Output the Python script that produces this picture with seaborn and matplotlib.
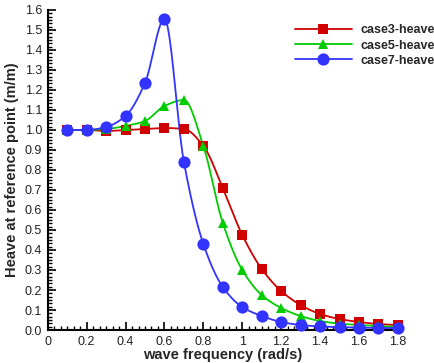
import numpy as np
import pandas as pd
import matplotlib
matplotlib.use("Agg")
import matplotlib.pyplot as plt
from matplotlib.lines import Line2D
from matplotlib.ticker import MultipleLocator, AutoMinorLocator, FormatStrFormatter
import seaborn as sns

# ---- data ----
freq = [0.1, 0.2, 0.3, 0.4, 0.5, 0.6, 0.7, 0.8, 0.9, 1.0, 1.1, 1.2, 1.3, 1.4, 1.5, 1.6, 1.7, 1.8]
case3 = [1.0, 1.0, 0.995, 1.0, 1.005, 1.01, 1.005, 0.92, 0.71, 0.475, 0.305, 0.195, 0.125, 0.08, 0.055, 0.04, 0.03, 0.025]
case5 = [1.0, 1.0, 1.005, 1.02, 1.045, 1.12, 1.15, 0.92, 0.535, 0.30, 0.175, 0.11, 0.07, 0.045, 0.032, 0.025, 0.02, 0.015]
case7 = [1.0, 1.0, 1.015, 1.07, 1.235, 1.555, 0.84, 0.43, 0.215, 0.115, 0.07, 0.04, 0.025, 0.018, 0.014, 0.012, 0.01, 0.01]
labels = ["case3-heave", "case5-heave", "case7-heave"]
colors = ["#D00000", "#00CC00", "#3333FF"]
markers = ["s", "^", "o"]
msizes = [6.8, 7.0, 8.8]
xlabel = "wave frequency (rad/s)"
ylabel = "Heave at reference point (m/m)"


def pchip(x, y, xs):
    x = np.asarray(x, float); y = np.asarray(y, float)
    n = len(x)
    h = np.diff(x); delta = np.diff(y) / h
    d = np.zeros(n)
    for k in range(1, n - 1):
        if delta[k - 1] * delta[k] <= 0:
            d[k] = 0.0
        else:
            w1 = 2 * h[k] + h[k - 1]
            w2 = h[k] + 2 * h[k - 1]
            d[k] = (w1 + w2) / (w1 / delta[k - 1] + w2 / delta[k])
    def endd(h0, h1, d0, d1):
        v = ((2 * h0 + h1) * d0 - h0 * d1) / (h0 + h1)
        if np.sign(v) != np.sign(d0):
            v = 0.0
        elif np.sign(d0) != np.sign(d1) and abs(v) > abs(3 * d0):
            v = 3 * d0
        return v
    d[0] = endd(h[0], h[1], delta[0], delta[1])
    d[-1] = endd(h[-1], h[-2], delta[-1], delta[-2])
    idx = np.clip(np.searchsorted(x, xs) - 1, 0, n - 2)
    t = (xs - x[idx]) / h[idx]
    h00 = 2 * t**3 - 3 * t**2 + 1
    h10 = t**3 - 2 * t**2 + t
    h01 = -2 * t**3 + 3 * t**2
    h11 = t**3 - t**2
    return h00 * y[idx] + h10 * h[idx] * d[idx] + h01 * y[idx + 1] + h11 * h[idx] * d[idx + 1]


sns.set_theme(style="ticks")
plt.rcParams["font.family"] = ["Liberation Sans", "DejaVu Sans"]

fig = plt.figure(figsize=(4.35, 3.63), dpi=100)
ax = fig.add_axes([0.1097, 0.0909, 0.805, 0.8816])

xs = np.linspace(freq[0], freq[-1], 600)
rows = []
pts = []
for lab, vals in zip(labels, [case3, case5, case7]):
    ys = pchip(freq, vals, xs)
    rows.append(pd.DataFrame({"x": xs, "y": ys, "case": lab}))
    pts.append(pd.DataFrame({"x": freq, "y": vals, "case": lab}))
curves = pd.concat(rows)
points = pd.concat(pts)

pal = dict(zip(labels, colors))
sns.lineplot(data=curves, x="x", y="y", hue="case", palette=pal, ax=ax,
             linewidth=1.3, legend=False, sort=False, estimator=None)
for lab, c, m, ms in zip(labels, colors, markers, msizes):
    sub = points[points["case"] == lab]
    ax.plot(sub["x"], sub["y"], linestyle="none", marker=m, markersize=ms,
            color=c, markeredgewidth=0, clip_on=False, zorder=3)

ax.set_xlim(0, 1.8)
ax.set_ylim(0, 1.6)
ax.xaxis.set_major_locator(MultipleLocator(0.2))
ax.yaxis.set_major_locator(MultipleLocator(0.1))
ax.xaxis.set_minor_locator(AutoMinorLocator(6))
ax.yaxis.set_minor_locator(AutoMinorLocator(6))
ax.xaxis.set_major_formatter(FormatStrFormatter("%g"))
ax.yaxis.set_major_formatter(FormatStrFormatter("%.1f"))
ax.tick_params(which="major", direction="in", length=6, width=1.2, color="black",
               labelsize=9, labelcolor="#222222")
ax.tick_params(axis="x", which="major", pad=4)
ax.tick_params(axis="y", which="major", pad=4)
ax.tick_params(which="minor", direction="in", length=3, width=1.0, color="black")
for s in ["top", "right"]:
    ax.spines[s].set_visible(False)
for s in ["left", "bottom"]:
    ax.spines[s].set_color("black")
    ax.spines[s].set_linewidth(1.5)

ax.set_xlabel(xlabel, fontsize=10.5, fontweight="bold", labelpad=0)
ax.set_ylabel(ylabel, fontsize=10.5, fontweight="bold", labelpad=4)

handles = [Line2D([0], [0], color=c, marker=m, markersize=ms, markeredgewidth=0, linewidth=1.3)
           for c, m, ms in zip(colors, markers, msizes)]
leg = ax.legend(handles, labels, loc="upper left", bbox_to_anchor=(0.705, 0.955),
                frameon=False, handlelength=4.6, handletextpad=0.7, labelspacing=0.25,
                borderpad=0, borderaxespad=0, prop={"size": 9, "weight": "bold"})

fig.savefig("out.png", dpi=100)
